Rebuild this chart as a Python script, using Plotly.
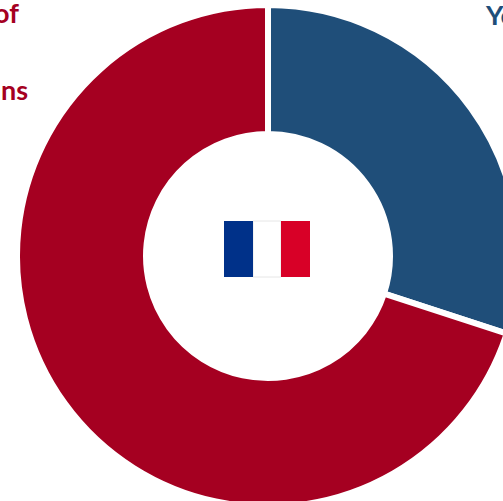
import plotly.graph_objects as go

labels = ["Young", "Others"]
values = [30, 70]
colors = ["#1F4E79", "#A50021"]
flag_colors = ["#FFFFFF", "#003189", "#D80027"]
flag_edges = [(253, 281), (224, 253), (281, 310)]
flag_lines = [1, 0, 0]

W, H = 536, 507
def px(x): return x / W
def py(y): return 1 - y / H

fig = go.Figure(go.Pie(
    labels=labels, values=values, hole=0.486, sort=False, direction="clockwise", rotation=0,
    marker=dict(colors=colors, line=dict(color="#FFFFFF", width=6)),
    textinfo="none", hoverinfo="label+percent", showlegend=False,
    domain=dict(x=[px(17), px(519)], y=[0, 502 / H]),
))

shapes = []
for c, (x0, x1), lw in zip(flag_colors, flag_edges, flag_lines):
    shapes.append(dict(type="rect", xref="paper", yref="paper",
                       x0=px(x0), x1=px(x1), y0=py(277), y1=py(221), fillcolor=c,
                       line=dict(width=lw, color="#E6E6E6")))

anns = [
    dict(text="of", x=px(21), y=py(12), xanchor="right", color="#A50021"),
    dict(text="ns", x=px(30), y=py(89), xanchor="right", color="#A50021"),
    dict(text="Young", x=px(483), y=py(14), xanchor="left", color="#1F4E79"),
]
fig.update_layout(
    width=W, height=H, margin=dict(l=0, r=0, t=0, b=0),
    paper_bgcolor="white", plot_bgcolor="white", shapes=shapes,
    annotations=[dict(text="<b>%s</b>" % a["text"], x=a["x"], y=a["y"], xref="paper", yref="paper",
                      xanchor=a["xanchor"], yanchor="middle", showarrow=False,
                      font=dict(family="Lato", size=27, color=a["color"])) for a in anns],
)
fig.write_html("out.html", config=dict(displayModeBar=False),
               post_script="document.body.style.margin='0';document.body.style.overflow='hidden';document.documentElement.style.overflow='hidden';")
